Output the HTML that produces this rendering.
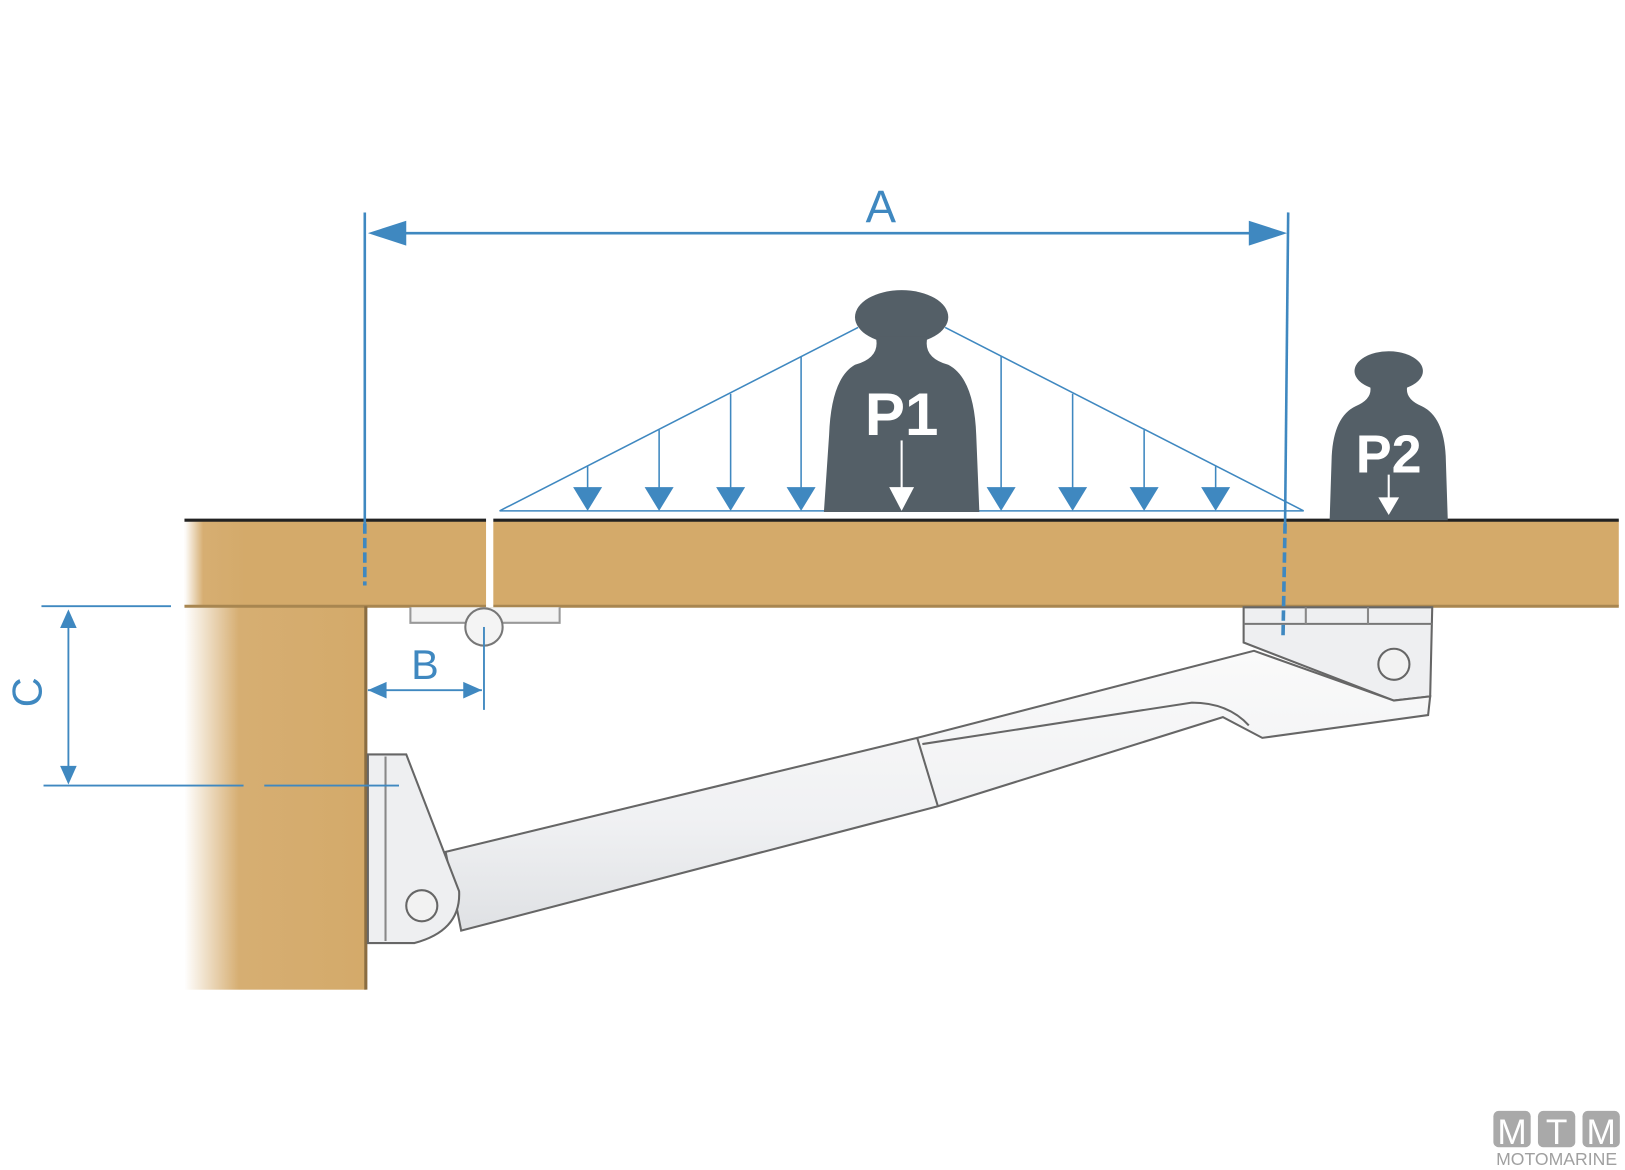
<!DOCTYPE html>
<html><head><style>html,body{margin:0;padding:0;background:#fff}svg{display:block}</style></head>
<body>
<svg width="1625" height="1170" viewBox="0 0 1568 1129" preserveAspectRatio="none" xmlns="http://www.w3.org/2000/svg">
<defs>
<linearGradient id="post" x1="0" x2="1" y1="0" y2="0">
<stop offset="0" stop-color="#fff"/><stop offset="0.3" stop-color="#d6ae72"/><stop offset="1" stop-color="#d4aa6a"/>
</linearGradient>
<linearGradient id="cyl" x1="0" x2="0" y1="0" y2="1">
<stop offset="0" stop-color="#fafafa"/><stop offset="0.6" stop-color="#f0f1f3"/><stop offset="1" stop-color="#dfe1e4"/>
</linearGradient>
</defs>
<rect x="178" y="502" width="1384" height="83" fill="#d4aa6a"/>
<rect x="178" y="502" width="60" height="83" fill="url(#post)"/>
<rect x="178" y="585" width="175" height="370" fill="url(#post)"/>
<line x1="178" y1="502" x2="1562" y2="502" stroke="#222" stroke-width="3"/>
<line x1="178" y1="585" x2="1562" y2="585" stroke="#a88650" stroke-width="3"/>
<line x1="353" y1="585" x2="353" y2="955" stroke="#8a6d42" stroke-width="3"/>
<rect x="469" y="500" width="7" height="86" fill="#fff"/>
<path d="M396 586 V601 H540 V586" fill="#f3f3f3" stroke="#999" stroke-width="2"/>
<circle cx="467" cy="605" r="18" fill="#f4f4f4" stroke="#777" stroke-width="2"/>
<path d="M1200 586 V620 L1345 676 L1380 672 L1382 586 Z" fill="#eeeff1" stroke="#666" stroke-width="2"/>
<line x1="1200" y1="602" x2="1382" y2="602" stroke="#777" stroke-width="2"/>
<line x1="1260" y1="586" x2="1260" y2="602" stroke="#888" stroke-width="2"/>
<line x1="1320" y1="586" x2="1320" y2="602" stroke="#888" stroke-width="2"/>
<circle cx="1345" cy="641" r="15" fill="#f2f2f2" stroke="#666" stroke-width="2"/>
<path d="M430 822 L885 712 L1210 628 L1345 676 L1380 672 L1378 690 L1218 712 L1180 692 L905 778 L445 898 Z" fill="url(#cyl)" stroke="#666" stroke-width="2"/>
<path d="M885 712 L905 778" stroke="#666" stroke-width="2" fill="none"/>
<path d="M890 718 L1150 678 Q1185 678 1205 700" stroke="#666" stroke-width="2" fill="none"/>
<path d="M355 728 H392 L443 860 Q445 898 400 910 H355 Z" fill="#eeeff1" stroke="#666" stroke-width="2"/>
<line x1="372" y1="730" x2="372" y2="908" stroke="#888" stroke-width="2"/>
<circle cx="407" cy="874" r="15" fill="#f2f2f2" stroke="#666" stroke-width="2"/>
<g stroke="#3f88c0" stroke-width="2.5" fill="#3f88c0">
<line x1="352" y1="205" x2="352" y2="505"/>
<line x1="352" y1="505" x2="352" y2="565" stroke-dasharray="10 4" stroke-width="3.5"/>
<line x1="1243" y1="205" x2="1240" y2="505"/>
<line x1="1240" y1="505" x2="1238" y2="615" stroke-dasharray="10 4" stroke-width="3.5"/>
<line x1="375" y1="225" x2="1222" y2="225"/>
<path d="M355 225 L392 213 L392 237 Z" stroke="none"/>
<path d="M1242 225 L1205 213 L1205 237 Z" stroke="none"/>
</g>
<text x="850" y="214" font-family="Liberation Sans, sans-serif" font-size="44" fill="#3f88c0" text-anchor="middle">A</text>
<g stroke="#3f88c0" stroke-width="1.5" fill="none">
<path d="M482 493 L828 316 M912 316 L1258 493 M482 493 H1258"/>
<line x1="567" y1="450" x2="567" y2="478"/><line x1="636" y1="415" x2="636" y2="478"/>
<line x1="705" y1="380" x2="705" y2="478"/><line x1="773" y1="344" x2="773" y2="478"/>
<line x1="966" y1="344" x2="966" y2="478"/><line x1="1035" y1="380" x2="1035" y2="478"/>
<line x1="1104" y1="415" x2="1104" y2="478"/><line x1="1173" y1="450" x2="1173" y2="478"/>
</g>
<g fill="#3f88c0">
<path d="M553 470 L581 470 L567 493 Z"/><path d="M622 470 L650 470 L636 493 Z"/>
<path d="M691 470 L719 470 L705 493 Z"/><path d="M759 470 L787 470 L773 493 Z"/>
<path d="M952 470 L980 470 L966 493 Z"/><path d="M1021 470 L1049 470 L1035 493 Z"/>
<path d="M1090 470 L1118 470 L1104 493 Z"/><path d="M1159 470 L1187 470 L1173 493 Z"/>
</g>
<g fill="#545f67">
<ellipse cx="870" cy="306" rx="45" ry="26"/>
<path d="M845 325 H895 Q890 345 915 352 Q940 365 942 420 L945 494 H795 L800 420 Q802 365 825 352 Q850 345 845 325 Z"/>
</g>
<text x="870" y="420" font-family="Liberation Sans, sans-serif" font-weight="bold" font-size="58" fill="#fff" text-anchor="middle">P1</text>
<line x1="870" y1="425" x2="870" y2="478" stroke="#fff" stroke-width="2"/>
<path d="M858 470 L882 470 L870 493 Z" fill="#fff"/>
<g fill="#545f67">
<ellipse cx="1340" cy="358" rx="33" ry="19"/>
<path d="M1322 372 H1358 Q1355 385 1372 392 Q1393 402 1395 440 L1397 502 H1283 L1285 440 Q1287 402 1308 392 Q1325 385 1322 372 Z"/>
</g>
<text x="1340" y="456" font-family="Liberation Sans, sans-serif" font-weight="bold" font-size="52" fill="#fff" text-anchor="middle">P2</text>
<line x1="1340" y1="458" x2="1340" y2="488" stroke="#fff" stroke-width="2"/>
<path d="M1330 480 L1350 480 L1340 497 Z" fill="#fff"/>
<g stroke="#3f88c0" stroke-width="1.8" fill="#3f88c0">
<line x1="40" y1="585" x2="165" y2="585"/>
<line x1="42" y1="758" x2="235" y2="758"/><line x1="255" y1="758" x2="385" y2="758"/>
<line x1="66" y1="600" x2="66" y2="742"/>
<path d="M66 588 L58 606 L74 606 Z" stroke="none"/>
<path d="M66 757 L58 739 L74 739 Z" stroke="none"/>
<line x1="355" y1="666" x2="465" y2="666"/>
<path d="M355 666 L373 658 L373 674 Z" stroke="none"/>
<path d="M465 666 L447 658 L447 674 Z" stroke="none"/>
<line x1="467" y1="605" x2="467" y2="685"/>
</g>
<text x="410" y="655" font-family="Liberation Sans, sans-serif" font-size="40" fill="#3f88c0" text-anchor="middle">B</text>
<text transform="translate(40,668) rotate(-90)" font-family="Liberation Sans, sans-serif" font-size="40" fill="#3f88c0" text-anchor="middle">C</text>
<g fill="#a9a9a9">
<rect x="1441" y="1072" width="36" height="35" rx="5"/>
<rect x="1484" y="1072" width="36" height="35" rx="5"/>
<rect x="1527" y="1072" width="36" height="35" rx="5"/>
</g>
<g font-family="Liberation Sans, sans-serif" font-size="34" fill="#fff" text-anchor="middle">
<text x="1459" y="1104">M</text><text x="1502" y="1104">T</text><text x="1545" y="1104">M</text>
</g>
<text x="1502" y="1124" font-family="Liberation Sans, sans-serif" font-size="17" fill="#a0a0a0" text-anchor="middle">MOTOMARINE</text>
</svg>
</body></html>
